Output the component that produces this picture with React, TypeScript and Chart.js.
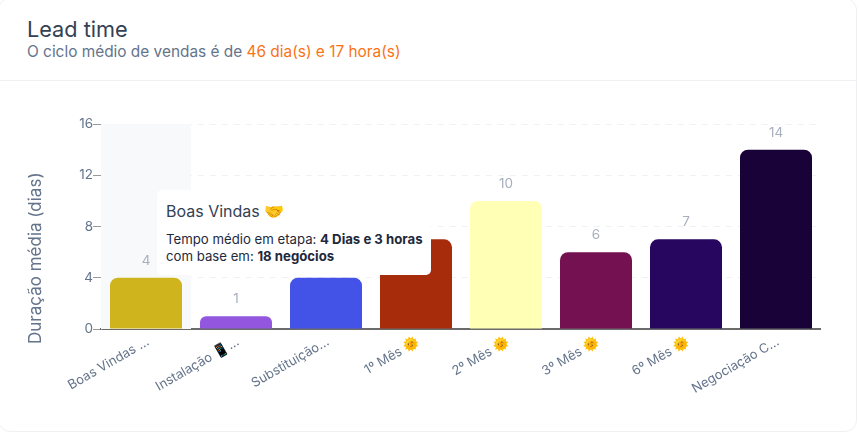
import React, { useEffect, useRef } from "react";
import { Chart, registerables } from "chart.js";

Chart.register(...registerables);

const FONT = "Inter, 'Noto Sans', sans-serif";

const tickLabels = [
  "Boas Vindas ...",
  "Instalação 📱...",
  "Substituição...",
  "1º Mês 🌞",
  "2º Mês 🌞",
  "3º Mês 🌞",
  "6º Mês 🌞",
  "Negociação C...",
];
const durations = [4, 1, 4, 7, 10, 6, 7, 14];
const barColors = ["#CFB41E", "#9257DE", "#4353E8", "#A72C0C", "#FFFFB5", "#741150", "#27065F", "#190238"];
const yTicks = [0, 4, 8, 12, 16];
const yAxisTitle = "Duração média (dias)";
const hoveredIndex = 0;

const overlayPlugin = {
  id: "overlay",
  beforeDatasetsDraw(chart: any) {
    const { ctx, chartArea, scales } = chart;
    const band = scales.x.width / tickLabels.length;
    const cx = scales.x.getPixelForValue(hoveredIndex);
    ctx.save();
    ctx.fillStyle = "#F8F9FB";
    ctx.fillRect(cx - band / 2, chartArea.top, band, chartArea.bottom - chartArea.top);
    ctx.restore();
  },
  afterDatasetsDraw(chart: any) {
    const { ctx, chartArea } = chart;
    const meta = chart.getDatasetMeta(0);
    ctx.save();
    ctx.font = `13.5px ${FONT}`;
    ctx.fillStyle = "#A8AFBD";
    ctx.textAlign = "center";
    ctx.textBaseline = "alphabetic";
    meta.data.forEach((bar: any, i: number) => {
      ctx.fillText(String(durations[i]), bar.x, bar.y - 13);
    });
    ctx.restore();

    ctx.save();
    ctx.translate(12, chartArea.bottom + 15);
    ctx.rotate(-Math.PI / 2);
    ctx.font = `17px ${FONT}`;
    ctx.fillStyle = "#64748B";
    ctx.textAlign = "left";
    ctx.textBaseline = "middle";
    ctx.fillText(yAxisTitle, 0, 0);
    ctx.restore();
  },
};

export default function App() {
  const ref = useRef<HTMLCanvasElement>(null);

  useEffect(() => {
    document.body.style.margin = "0";
    document.body.style.background = "#fff";
    const chart = new Chart(ref.current as HTMLCanvasElement, {
      type: "bar",
      data: {
        labels: tickLabels,
        datasets: [
          {
            data: durations,
            backgroundColor: barColors,
            borderRadius: 8,
            borderSkipped: "bottom",
            categoryPercentage: 0.8,
            barPercentage: 1,
          },
        ],
      },
      plugins: [overlayPlugin],
      options: {
        animation: false,
        responsive: false,
        events: [],
        layout: { padding: { left: 0, right: 0, top: 10, bottom: 0 } },
        plugins: { legend: { display: false }, tooltip: { enabled: false } },
        scales: {
          x: {
            grid: { display: false, drawTicks: false },
            border: { display: true, color: "#6B6B6B", width: 2 },
            ticks: {
              color: "#64748B",
              font: { size: 13, family: FONT },
              maxRotation: 30,
              minRotation: 30,
              padding: 5,
              labelOffset: 2,
              autoSkip: false,
            },
            afterFit(scale: any) {
              scale.height = 105;
            },
          },
          y: {
            min: 0,
            max: 16,
            afterBuildTicks(scale: any) {
              scale.ticks = yTicks.map((value) => ({ value }));
            },
            afterFit(scale: any) {
              scale.width = 77;
            },
            grid: {
              color: "#F0F1F4",
              drawTicks: true,
              tickColor: "#9A9A9A",
              tickLength: 8,
            },
            border: { display: true, color: "#9A9A9A", width: 1, dash: [6, 6] },
            ticks: {
              color: "#64748B",
              font: { size: 13.5, family: FONT },
              padding: 0,
            },
          },
        },
      },
    } as any);
    return () => chart.destroy();
  }, []);

  return (
    <div
      style={{
        position: "relative",
        width: 859,
        height: 434,
        fontFamily: FONT,
        overflow: "hidden",
        background: "#fff",
      }}
    >
      <div
        style={{
          position: "absolute",
          left: -2,
          top: -2,
          width: 859,
          height: 434,
          boxSizing: "border-box",
          border: "1px solid #EEF0F3",
          borderRadius: 12,
        }}
      />
      <div style={{ position: "absolute", left: 27, top: 16, fontSize: 21.7, lineHeight: "26px", color: "#334155" }}>
        Lead time
      </div>
      <div style={{ position: "absolute", left: 27, top: 42, fontSize: 15.4, lineHeight: "20px", color: "#64748B", whiteSpace: "nowrap" }}>
        O ciclo médio de vendas é de <span style={{ color: "#F97316" }}>46 dia(s) e 17 hora(s)</span>
      </div>
      <div style={{ position: "absolute", left: 0, top: 80, width: 857, height: 1, background: "#EEF0F3" }} />
      <canvas ref={ref} width={797} height={320} style={{ position: "absolute", left: 24, top: 114 }} />
      <div
        style={{
          position: "absolute",
          left: 157,
          top: 190,
          width: 274,
          height: 85,
          background: "#fff",
          borderRadius: 5,
          boxSizing: "border-box",
          padding: "11px 9px",
          color: "#1E293B",
          whiteSpace: "nowrap",
        }}
      >
        <div style={{ fontSize: 16, lineHeight: "20px", color: "#334155" }}>Boas Vindas 🤝</div>
        <div style={{ fontSize: 13.2, lineHeight: "17px", marginTop: 10 }}>
          Tempo médio em etapa: <b>4 Dias e 3 horas</b>
          <br />
          com base em: <b>18 negócios</b>
        </div>
      </div>
    </div>
  );
}
